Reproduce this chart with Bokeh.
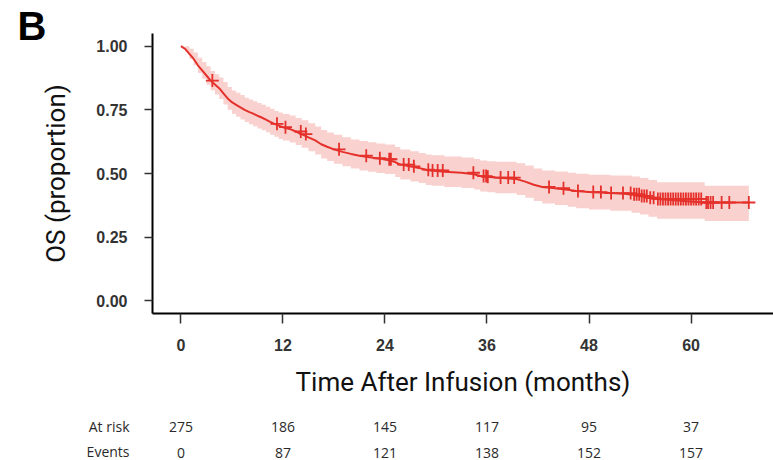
from bokeh.plotting import figure
from bokeh.layouts import column
from bokeh.models import ColumnDataSource, Range1d, FixedTicker, NumeralTickFormatter
from bokeh.core.properties import value
from bokeh.embed import file_html
from bokeh.resources import INLINE

# ---- data -------------------------------------------------------------------
time = [0, 0.5, 1.0, 1.5, 2.0, 2.5, 3.0, 3.5, 4.0, 4.5, 5.0, 5.5, 6.0, 6.5, 7.0, 7.5,
        8.0, 8.5, 9.0, 9.5, 10.0, 10.5, 11.0, 11.5, 12.0, 12.8, 13.5, 14.2, 15.0, 15.8,
        16.5, 17.2, 18.0, 19.0, 20.0, 21.0, 22.0, 23.0, 24.0, 25.2, 25.8, 27.0, 28.0,
        28.8, 29.5, 31.0, 33.0, 34.5, 35.2, 36.0, 37.0, 39.5, 40.5, 41.5, 42.5, 44.0,
        45.5, 46.5, 48.0, 50.5, 53.0, 54.0, 55.0, 56.0, 61.6]
surv = [1.000, 0.990, 0.970, 0.950, 0.925, 0.905, 0.885, 0.865, 0.850, 0.835, 0.815,
        0.795, 0.780, 0.770, 0.760, 0.750, 0.742, 0.735, 0.727, 0.720, 0.712, 0.703,
        0.695, 0.688, 0.682, 0.675, 0.665, 0.655, 0.642, 0.630, 0.615, 0.605, 0.595,
        0.585, 0.577, 0.570, 0.565, 0.560, 0.556, 0.545, 0.535, 0.528, 0.522, 0.515,
        0.512, 0.507, 0.503, 0.497, 0.490, 0.487, 0.484, 0.478, 0.468, 0.456, 0.447,
        0.442, 0.436, 0.431, 0.427, 0.423, 0.418, 0.412, 0.405, 0.400, 0.386]
lower = [1.000, 0.978, 0.950, 0.925, 0.895, 0.872, 0.849, 0.827, 0.810, 0.793, 0.771,
         0.750, 0.734, 0.723, 0.712, 0.702, 0.693, 0.686, 0.677, 0.670, 0.662, 0.652,
         0.644, 0.636, 0.630, 0.622, 0.612, 0.601, 0.587, 0.575, 0.559, 0.549, 0.538,
         0.528, 0.520, 0.512, 0.507, 0.502, 0.498, 0.486, 0.476, 0.469, 0.463, 0.455,
         0.452, 0.447, 0.443, 0.437, 0.429, 0.426, 0.422, 0.416, 0.405, 0.392, 0.382,
         0.376, 0.369, 0.363, 0.359, 0.354, 0.346, 0.339, 0.330, 0.322, 0.313]
upper = [1.000, 1.000, 0.990, 0.975, 0.955, 0.938, 0.921, 0.903, 0.890, 0.877, 0.859,
         0.840, 0.826, 0.817, 0.808, 0.798, 0.791, 0.784, 0.777, 0.770, 0.762, 0.754,
         0.746, 0.740, 0.734, 0.728, 0.718, 0.709, 0.697, 0.685, 0.671, 0.661, 0.652,
         0.642, 0.634, 0.628, 0.623, 0.618, 0.614, 0.604, 0.594, 0.587, 0.581, 0.575,
         0.572, 0.567, 0.563, 0.557, 0.551, 0.548, 0.546, 0.540, 0.531, 0.520, 0.512,
         0.508, 0.503, 0.499, 0.495, 0.492, 0.488, 0.482, 0.474, 0.466, 0.452]
end_time = 66.8
censor_times = [3.7, 11.3, 12.3, 14.1, 14.7, 18.6, 21.8, 23.4, 24.5, 24.7, 26.2, 26.8,
                27.4, 29.1, 29.6, 30.2, 30.8, 34.4, 35.6, 35.9, 36.1, 37.6, 38.5, 39.2,
                43.3, 45.0, 46.7, 48.5, 49.4, 50.6, 52.0, 52.9, 53.3, 53.6, 53.9, 54.2,
                54.5, 54.8, 55.2, 55.6, 56.1, 56.4, 56.7, 57.0, 57.3, 57.6, 57.9, 58.2,
                58.5, 58.8, 59.1, 59.4, 59.7, 60.0, 60.3, 60.6, 60.9, 61.2, 61.8, 62.0,
                62.3, 62.6, 63.6, 64.5, 66.8]
tick_months = [0, 12, 24, 36, 48, 60]
y_ticks = [0, 0.25, 0.5, 0.75, 1.0]
at_risk = [275, 186, 145, 117, 95, 37]
events = [0, 87, 121, 138, 152, 157]
row_names = ["At risk", "Events"]
panel_letter = "B"
x_title = "Time After Infusion (months)"
y_title = "OS (proportion)"

RED = "#e5312b"

# ---- derived drawing arrays ---------------------------------------------------
line_x = time + [end_time]
line_y = surv + [surv[-1]]

band_x, band_lo, band_hi = [], [], []
for i in range(len(time)):
    t_next = time[i + 1] if i + 1 < len(time) else end_time
    band_x += [time[i], t_next]
    band_lo += [lower[i], lower[i]]
    band_hi += [upper[i], upper[i]]

def surv_at(t):
    s = surv[0]
    for ti, si in zip(time, surv):
        if ti <= t:
            s = si
    return s

censor_y = [surv_at(c) for c in censor_times]

# ---- layout constants ------------------------------------------------------
W = 773
LEFT = 152
x_range = Range1d(-3.34, 69.7)

# ---- main figure -------------------------------------------------------------
p = figure(width=W, height=400,
           x_range=x_range, y_range=Range1d(-0.05, 1.05),
           output_backend="svg", toolbar_location=None,
           min_border_left=LEFT, min_border_right=0,
           min_border_top=33, min_border_bottom=87)
p.outline_line_color = None
p.grid.visible = False
p.background_fill_color = "white"
p.border_fill_color = "white"

# panel letter as the figure title, pulled left over the axis area
p.title.text = panel_letter
p.title.align = "left"
p.title.offset = -(LEFT - 17)
p.title.standoff = -28
p.title.text_font = "Liberation Sans"
p.title.text_font_style = "bold"
p.title.text_font_size = "40px"
p.title.text_color = "black"

p.varea(x=band_x, y1=band_lo, y2=band_hi, fill_color=RED, fill_alpha=0.22)
p.line(x=line_x, y=line_y, line_color=RED, line_width=2)
p.scatter(x=censor_times, y=censor_y, marker="cross", size=13,
          line_color=RED, line_width=1.8)

for ax in (p.xaxis[0], p.yaxis[0]):
    ax.axis_line_color = "black"
    ax.axis_line_width = 2
    ax.major_tick_line_color = "#333333"
    ax.major_tick_line_width = 1.5
    ax.minor_tick_line_color = None
    ax.major_tick_in = 0
    ax.major_label_text_font = "Liberation Sans"
    ax.major_label_text_font_style = "bold"
    ax.major_label_text_font_size = "16px"
    ax.major_label_text_color = "#333333"
    ax.axis_label_text_font = "Roboto"
    ax.axis_label_text_font_style = "normal"
    ax.axis_label_text_font_size = "26px"
    ax.axis_label_text_color = "#111111"

p.xaxis.ticker = FixedTicker(ticks=tick_months)
p.xaxis.major_tick_out = 10
p.xaxis.major_label_standoff = 15
p.xaxis.axis_label = x_title
p.xaxis.axis_label_standoff = 13

p.yaxis.ticker = FixedTicker(ticks=y_ticks)
p.yaxis.formatter = NumeralTickFormatter(format="0.00")
p.yaxis.major_tick_out = 8
p.yaxis.major_label_standoff = 17
p.yaxis.axis_label = y_title
p.yaxis.axis_label_standoff = 22

# ---- number-at-risk table (shares the plot's x scale) -------------------------
row_y = [34, 8]
t = figure(width=W, height=60, x_range=x_range, y_range=Range1d(0, 60),
           output_backend="svg", toolbar_location=None, x_axis_type=None,
           min_border_left=LEFT, min_border_right=0,
           min_border_top=0, min_border_bottom=0)
t.outline_line_color = None
t.grid.visible = False
ya = t.yaxis[0]
ya.ticker = FixedTicker(ticks=row_y)
ya.major_label_overrides = {row_y[0]: row_names[0], row_y[1]: row_names[1]}
ya.axis_line_color = None
ya.major_tick_line_color = None
ya.minor_tick_line_color = None
ya.major_tick_out = 0
ya.major_label_standoff = 23
ya.major_label_text_font = "Open Sans"
ya.major_label_text_font_size = "14px"
ya.major_label_text_color = "#2a2a2a"

src = ColumnDataSource(dict(x=tick_months,
                            risk=[str(v) for v in at_risk],
                            ev=[str(v) for v in events],
                            y1=[row_y[0]] * len(tick_months),
                            y2=[row_y[1]] * len(tick_months)))
for col, ycol in (("risk", "y1"), ("ev", "y2")):
    t.text(x="x", y=ycol, text=col, source=src, text_align="center",
           text_baseline="middle", text_font=value("Open Sans"),
           text_font_size="14px", text_color="#2a2a2a")

layout = column(p, t, spacing=0)
open("out.html", "w").write(file_html(layout, INLINE))
